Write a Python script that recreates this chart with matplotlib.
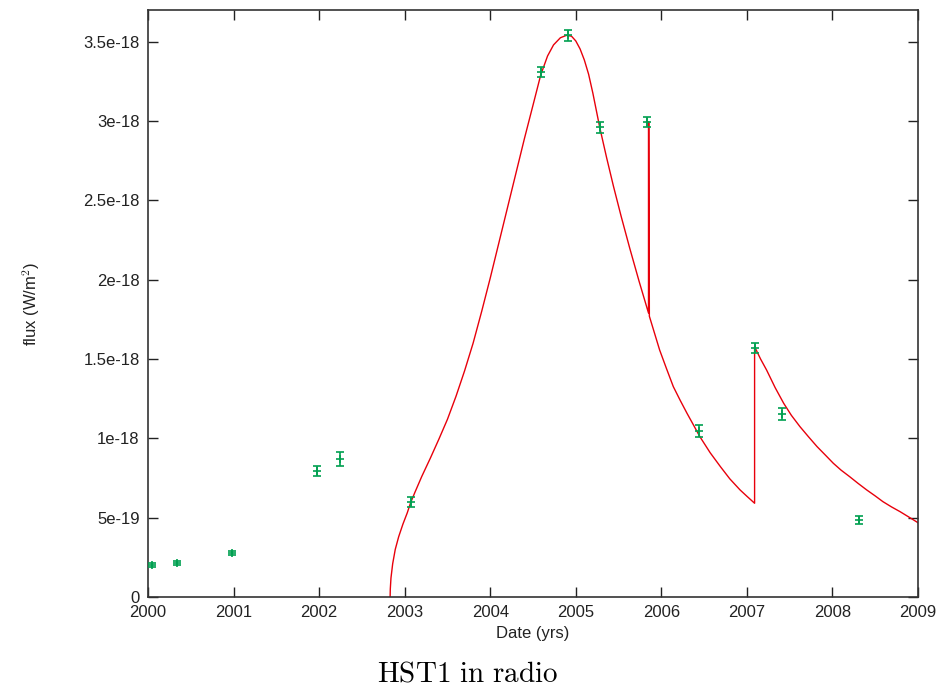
import matplotlib
matplotlib.use("Agg")
import matplotlib.pyplot as plt

plt.rcParams['font.family'] = ['Liberation Sans', 'DejaVu Sans']
plt.rcParams['mathtext.fontset'] = 'cm'

# observed radio flux of HST-1 (units of 1e-18 W/m^2)
obs_year = [2000.05, 2000.34, 2000.98, 2001.97, 2002.24, 2003.07, 2004.59,
            2004.91, 2005.28, 2005.83, 2006.44, 2007.09, 2007.41, 2008.31]
obs_flux = [0.202, 0.214, 0.277, 0.794, 0.870, 0.599, 3.31,
            3.54, 2.96, 2.995, 1.047, 1.57, 1.154, 0.486]
obs_err = [0.012, 0.012, 0.015, 0.03, 0.045, 0.03, 0.03,
           0.035, 0.035, 0.03, 0.04, 0.03, 0.04, 0.025]

# model curve (units of 1e-18 W/m^2)
model_year = [2002.83, 2002.832, 2002.84, 2002.86, 2002.89, 2002.93, 2002.98,
              2003.03, 2003.07, 2003.12, 2003.20, 2003.30, 2003.40, 2003.50,
              2003.60, 2003.70, 2003.80, 2003.90, 2004.00, 2004.10, 2004.20,
              2004.30, 2004.40, 2004.50, 2004.59, 2004.67, 2004.74, 2004.82,
              2004.89, 2004.95, 2005.00, 2005.05, 2005.10, 2005.15, 2005.20,
              2005.28, 2005.36, 2005.44, 2005.53, 2005.63, 2005.74, 2005.85,
              2005.85, 2005.855, 2005.86, 2005.98, 2006.06, 2006.14, 2006.22,
              2006.30, 2006.38, 2006.45, 2006.57, 2006.69, 2006.80, 2006.92,
              2007.00, 2007.09, 2007.09, 2007.16, 2007.23, 2007.33, 2007.43,
              2007.52, 2007.62, 2007.72, 2007.82, 2007.92, 2008.01, 2008.10,
              2008.20, 2008.30, 2008.40, 2008.50, 2008.59, 2008.69, 2008.79,
              2008.89, 2008.98, 2009.00]
model_flux = [0.0, 0.05, 0.12, 0.21, 0.30, 0.38, 0.46,
              0.53, 0.595, 0.66, 0.76, 0.875, 0.995, 1.12,
              1.265, 1.425, 1.60, 1.80, 2.01, 2.23, 2.45,
              2.67, 2.89, 3.10, 3.29, 3.41, 3.48, 3.525,
              3.54, 3.535, 3.505, 3.455, 3.385, 3.295, 3.175,
              2.96, 2.77, 2.59, 2.40, 2.20, 1.99, 1.79,
              2.995, 2.995, 1.77, 1.557, 1.44, 1.326, 1.24,
              1.158, 1.08, 1.011, 0.91, 0.822, 0.745, 0.675,
              0.635, 0.591, 1.578, 1.50, 1.431, 1.32, 1.221,
              1.145, 1.074, 1.01, 0.948, 0.893, 0.843, 0.80,
              0.759, 0.716, 0.675, 0.637, 0.601, 0.568, 0.538,
              0.505, 0.475, 0.468]

x_ticks = [2000, 2001, 2002, 2003, 2004, 2005, 2006, 2007, 2008, 2009]
y_ticks = [0, 0.5, 1.0, 1.5, 2.0, 2.5, 3.0, 3.5]
y_tick_labels = ['0', '5e-19', '1e-18', '1.5e-18', '2e-18', '2.5e-18', '3e-18', '3.5e-18']

fig = plt.figure(figsize=(9.39, 6.87), dpi=100)
ax = fig.add_axes([148/939, 90/687, 770/939, 587/687])

ax.plot(model_year, model_flux, color='#e8000b', lw=1.0, zorder=2)
ax.errorbar(obs_year, obs_flux, yerr=obs_err, fmt='+', color='#00a050',
            ms=6, mew=1.2, elinewidth=1.2, capsize=3, capthick=1.2, zorder=3)

ax.set_xlim(2000, 2009)
ax.set_ylim(0, 3.7)
ax.set_xticks(x_ticks)
ax.set_xticklabels([str(t) for t in x_ticks])
ax.set_yticks(y_ticks)
ax.set_yticklabels(y_tick_labels)
ax.tick_params(direction='in', length=7, width=1, top=True, right=True,
               labelsize=12, colors='#222222', pad=6)
for s in ax.spines.values():
    s.set_color('#333333')
    s.set_linewidth(1.2)

ax.set_xlabel('Date (yrs)', fontsize=12, color='#222222', labelpad=4)
ax.set_ylabel('flux (W/m$^2$)', fontsize=12, color='#222222', labelpad=30)
fig.text(0.5 - 0.002, 1 - 682/687, r'$\mathrm{HST1\ in\ radio}$', ha='center',
         va='baseline', fontsize=21)

fig.savefig('out.png', dpi=100)
